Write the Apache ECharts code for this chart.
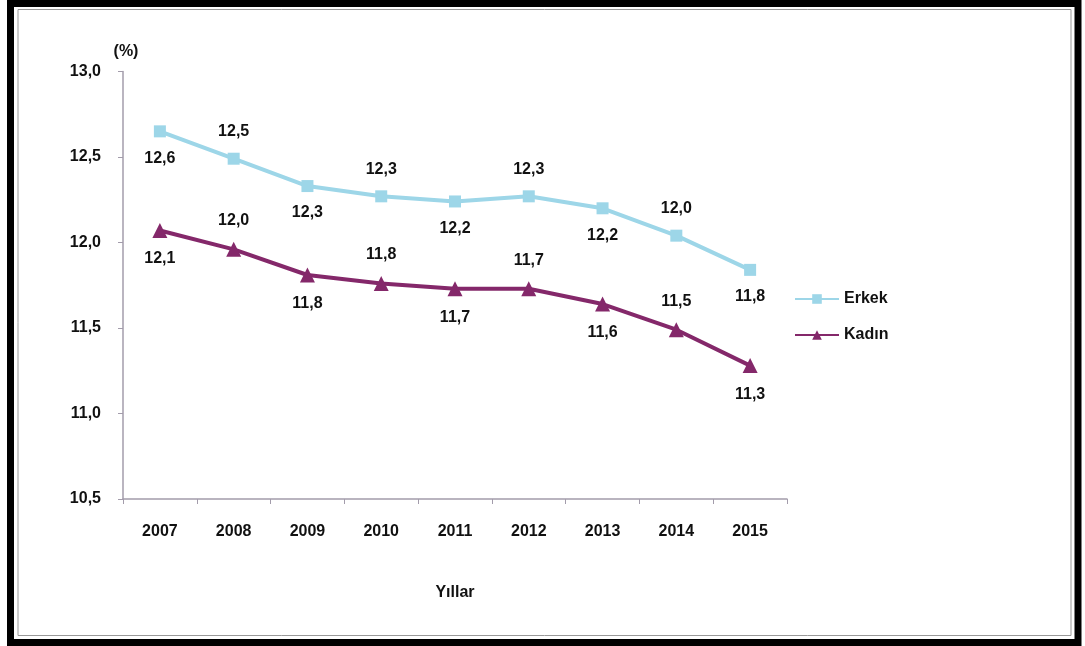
<!DOCTYPE html>
<html>
<head>
<meta charset="utf-8">
<title>Erkek / Kadın</title>
<script src="https://cdn.jsdelivr.net/npm/echarts@6.0.0/dist/echarts.min.js"></script>
<style>
    html, body { margin: 0; padding: 0; background: #fff; }
    #main { width: 1085px; height: 646px; }
</style>
</head>
<body>
<div id="main"></div>
<script>
// veriler
var years = ['2007', '2008', '2009', '2010', '2011', '2012', '2013', '2014', '2015'];
var erkek = [12.65, 12.49, 12.33, 12.27, 12.24, 12.27, 12.20, 12.04, 11.84];
var kadin = [12.07, 11.96, 11.81, 11.76, 11.73, 11.73, 11.64, 11.49, 11.28];
var erkekLabels = ['12,6', '12,5', '12,3', '12,3', '12,2', '12,3', '12,2', '12,0', '11,8'];
var kadinLabels = ['12,1', '12,0', '11,8', '11,8', '11,7', '11,7', '11,6', '11,5', '11,3'];
var yTicks = ['10,5', '11,0', '11,5', '12,0', '12,5', '13,0'];

var font = '"Liberation Sans", Arial, sans-serif';

function buildData(values, labels) {
    var out = [];
    for (var i = 0; i < values.length; i++) {
        out.push({
            value: values[i],
            label: {
                position: (i % 2 == 1) ? 'top' : 'bottom',
                formatter: labels[i]
            }
        });
    }
    return out;
}

var chart = echarts.init(document.getElementById('main'));

var option = {
    backgroundColor: '#ffffff',
    animation: false,
    grid: { left: 123, right: 298, top: 71.5, bottom: 147 },
    legend: {
        orient: 'vertical',
        left: 789,
        top: 286,
        itemWidth: 44,
        itemHeight: 12,
        itemGap: 20,
        textStyle: { fontFamily: font, fontWeight: 'bold', fontSize: 16, color: '#111' },
        data: ['Erkek', 'Kadın']
    },
    xAxis: {
        type: 'category',
        data: years,
        boundaryGap: true,
        name: 'Yıllar',
        nameLocation: 'middle',
        nameGap: 86,
        nameTextStyle: { fontFamily: font, fontWeight: 'bold', fontSize: 16, color: '#111' },
        axisLine: { lineStyle: { color: '#a39cab', width: 1.5 } },
        axisTick: { show: true, length: 5, lineStyle: { color: '#a39cab' } },
        axisLabel: { fontFamily: font, fontWeight: 'bold', fontSize: 16, color: '#111', margin: 25 },
        splitLine: { show: false }
    },
    yAxis: {
        type: 'value',
        min: 10.5,
        max: 13,
        interval: 0.5,
        name: '(%)',
        nameGap: 12,
        nameTextStyle: { fontFamily: font, fontWeight: 'bold', fontSize: 16, color: '#111', padding: [0, 0, 0, 6] },
        axisLine: { show: true, lineStyle: { color: '#a39cab', width: 1.5 } },
        axisTick: { show: true, length: 5, lineStyle: { color: '#a39cab' } },
        axisLabel: {
            fontFamily: font, fontWeight: 'bold', fontSize: 16, color: '#111', margin: 22,
            formatter: function (v) {
                return yTicks[Math.round((v - 10.5) / 0.5)];
            }
        },
        splitLine: { show: false }
    },
    series: [
        {
            name: 'Erkek',
            type: 'line',
            data: buildData(erkek, erkekLabels),
            symbol: 'rect',
            symbolSize: 12,
            lineStyle: { color: '#9dd6e8', width: 4 },
            itemStyle: { color: '#9dd6e8' },
            label: {
                show: true,
                distance: 13,
                fontFamily: font, fontWeight: 'bold', fontSize: 16, color: '#111'
            }
        },
        {
            name: 'Kadın',
            type: 'line',
            data: buildData(kadin, kadinLabels),
            symbol: 'triangle',
            symbolSize: 15,
            lineStyle: { color: '#84286a', width: 4 },
            itemStyle: { color: '#84286a' },
            label: {
                show: true,
                distance: 13,
                fontFamily: font, fontWeight: 'bold', fontSize: 16, color: '#111'
            }
        }
    ],
    graphic: [
        {
            type: 'rect',
            shape: { x: 10.5, y: 3.5, width: 1067.5, height: 639 },
            style: { fill: null, stroke: '#000', lineWidth: 7 },
            silent: true
        },
        {
            type: 'rect',
            shape: { x: 18, y: 9.5, width: 1053, height: 626 },
            style: { fill: null, stroke: '#999', lineWidth: 1 },
            silent: true
        }
    ]
};

chart.setOption(option);
</script>
</body>
</html>
